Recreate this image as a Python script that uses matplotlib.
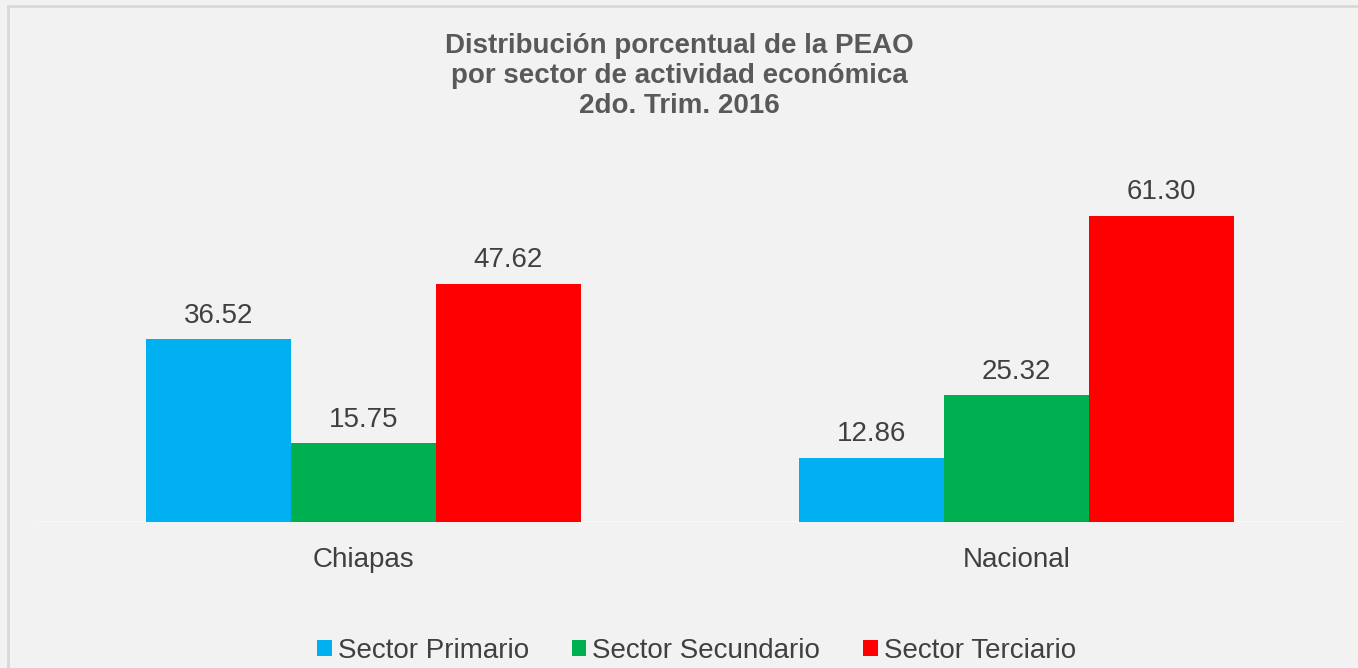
import matplotlib
matplotlib.use("Agg")
import matplotlib.pyplot as plt
from matplotlib.patches import Rectangle, Patch
import numpy as np

plt.rcParams['font.family'] = ['Liberation Sans', 'DejaVu Sans']

categories = ["Chiapas", "Nacional"]
series_names = ["Sector Primario", "Sector Secundario", "Sector Terciario"]
primario = [36.52, 12.86]
secundario = [15.75, 25.32]
terciario = [47.62, 61.30]
colors = ["#00b0f0", "#00b050", "#ff0000"]

W, H = 1358, 668
fig = plt.figure(figsize=(W / 100, H / 100), dpi=100)
fig.patch.set_facecolor("#f2f2f2")

# outer chart frame (extends beyond right/bottom edges)
fig.add_artist(Rectangle((8 / W, -0.05), 1.2, 1 - 6 / H + 0.05, transform=fig.transFigure,
                         fill=False, edgecolor="#d9d9d9", linewidth=2))

ax = fig.add_axes([37 / W, 1 - 522 / H, (1343 - 37) / W, (522 - 172) / H])
ax.set_facecolor("#f2f2f2")
ax.set_xlim(-0.5, 1.5)
ax.set_ylim(0, 70)

x = np.arange(len(categories))
bw = 0.222
for i, (vals, c) in enumerate(zip([primario, secundario, terciario], colors)):
    pos = x + (i - 1) * bw
    bars = ax.bar(pos, vals, width=bw, color=c, edgecolor="none", zorder=3)
    for b, v in zip(bars, vals):
        ax.annotate(f"{v:.2f}", (b.get_x() + b.get_width() / 2, v),
                    xytext=(0, 7.5), textcoords="offset points",
                    ha="center", va="bottom", fontsize=20, color="#404040")

for s in ax.spines.values():
    s.set_visible(False)
ax.axhline(0, color="#f8f8f8", linewidth=1.5, zorder=2)
ax.set_yticks([])
ax.set_xticks(x)
ax.set_xticklabels(categories, fontsize=20, color="#404040")
ax.tick_params(axis="x", length=0, pad=18)

fig.text(0.5, 1 - 33 / H, "Distribución porcentual de la PEAO\npor sector de actividad económica\n2do. Trim. 2016",
         ha="center", va="top", fontsize=20, fontweight="bold", color="#595959", linespacing=1.2)

handles = [Patch(facecolor=c, edgecolor="none") for c in colors]
fig.legend(handles, series_names, loc="center", bbox_to_anchor=(0.513, 1 - 651 / H),
           ncol=3, frameon=False, fontsize=20, labelcolor="#404040",
           handlelength=0.52, handleheight=0.52, handletextpad=0.22, columnspacing=1.55)

fig.savefig("out.png", dpi=100, facecolor=fig.get_facecolor())
